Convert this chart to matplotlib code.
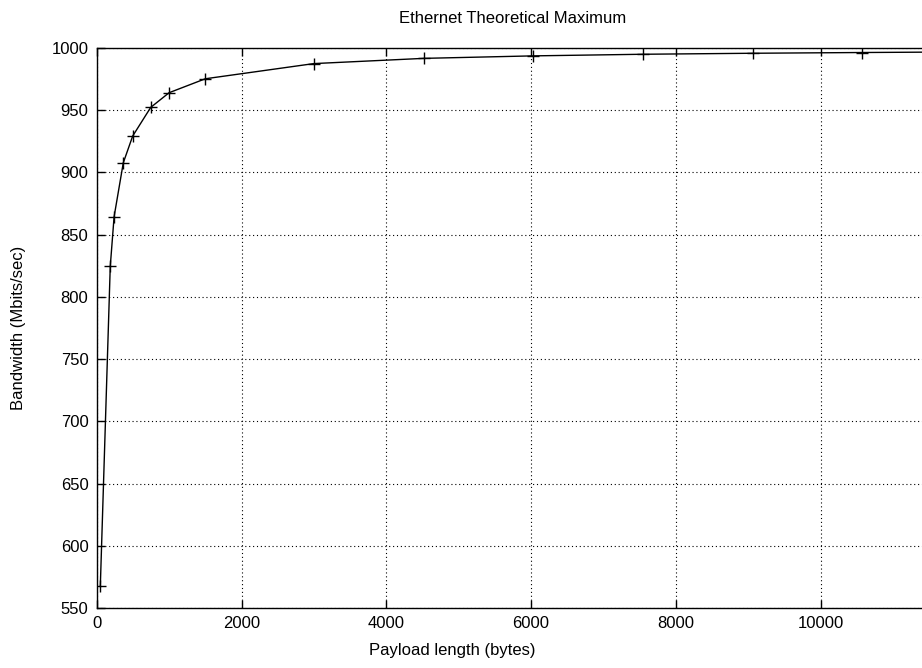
import matplotlib
matplotlib.use("Agg")
import matplotlib.pyplot as plt

# payload sizes (bytes) and the resulting line-rate throughput on gigabit ethernet
payload = [50, 187, 240, 367, 497, 746, 1000, 1500, 3000, 4520, 6030, 7550, 9065, 10575, 12090]
bandwidth = [568, 824.5, 864.4, 907.8, 929.3, 952.3, 964.1, 975.3, 987.5, 991.7, 993.7, 995.0, 995.8, 996.4, 996.9]

xticks = [0, 2000, 4000, 6000, 8000, 10000]
yticks = [550, 600, 650, 700, 750, 800, 850, 900, 950, 1000]

plt.rcParams['font.family'] = ['Liberation Sans', 'DejaVu Sans']
plt.rcParams['font.size'] = 12

fig = plt.figure(figsize=(9.22, 6.68), dpi=100)
# plot area runs past the right edge of the canvas
ax = fig.add_axes([0.1049, 0.0898, 0.9423, 0.8383])

ax.plot(payload, bandwidth, color='black', lw=1.0, marker='+', ms=9, mew=1.0, clip_on=True)

ax.set_xlim(0, 12000)
ax.set_ylim(550, 1000)
ax.set_xticks(xticks)
ax.set_yticks(yticks)
ax.grid(True, color='black', linestyle=(0, (1, 2.5)), lw=0.8)
ax.tick_params(direction='in', length=6, width=1, top=True, right=True, pad=6)
for s in ax.spines.values():
    s.set_linewidth(1.0)
    s.set_color('black')

fig.text(0.556, 0.972, 'Ethernet Theoretical Maximum', ha='center', va='center', fontsize=12)
fig.text(0.491, 0.026, 'Payload length (bytes)', ha='center', va='center', fontsize=12)
fig.text(0.020, 0.509, 'Bandwidth (Mbits/sec)', ha='center', va='center', rotation=90, fontsize=12)

fig.savefig('out.png', dpi=100)
